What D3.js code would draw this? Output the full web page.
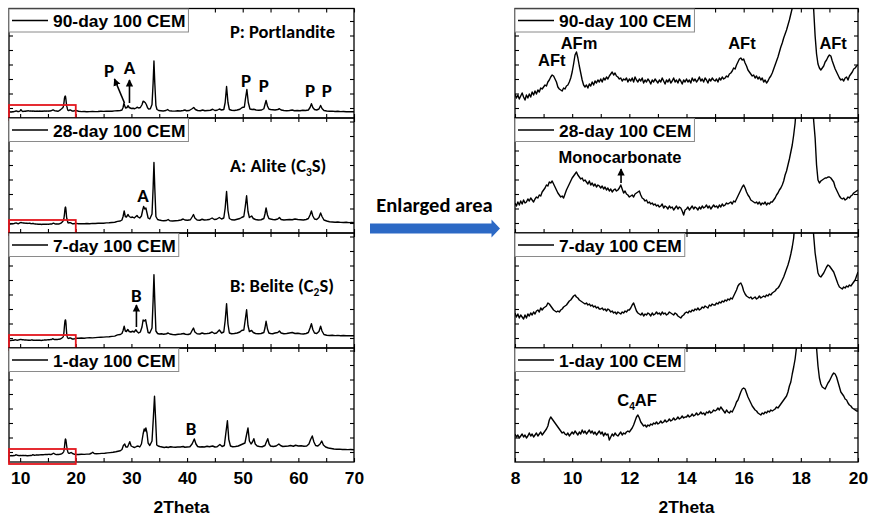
<!DOCTYPE html>
<html>
<head>
<meta charset="utf-8">
<title>XRD patterns of 100 CEM paste</title>
<script src="https://cdn.jsdelivr.net/npm/d3@7/dist/d3.min.js"></script>
<style>
  body { margin: 0; background: #fff; }
  text { fill: #000; }
</style>
</head>
<body>
<svg id="chart" width="870" height="520"></svg>
<script>
// ---------------- data ----------------
const sampleNames = ["90-day 100 CEM", "28-day 100 CEM", "7-day 100 CEM", "1-day 100 CEM"];

// slow scan, 8–20° 2θ, one reading every 0.05°
const fineStart = 8;
const fineStep = 0.05;

const fine90 = [
  124,120,123,119,122,125,121,118,123,120,124,121,126,123,127,124,128,126,130,129,
  131,133,132,136,138,141,143,142,139,136,131,129,128,127,130,129,132,133,136,140,
  146,154,163,166,160,152,145,138,133,131,133,130,134,132,136,133,137,135,138,136,
  139,136,140,138,141,139,142,144,146,143,145,142,141,139,140,137,139,138,140,136,
  139,137,140,136,141,138,136,139,137,140,135,138,136,139,137,134,138,136,139,137,
  135,138,136,140,137,134,138,136,139,135,137,140,136,138,135,139,137,134,138,136,
  139,136,138,135,140,137,139,136,138,141,137,139,136,140,138,135,139,137,140,138,
  137,139,136,140,138,141,139,140,142,141,144,145,147,150,149,153,156,159,160,158,
  159,155,152,148,146,144,142,143,140,142,139,141,138,140,136,138,135,137,140,142,
  145,149,153,157,161,166,171,175,180,184,188,193,198,204,210,225,250,285,330,380,
  410,430,440,435,400,350,300,260,230,208,182,164,154,150,148,150,152,156,158,161,
  163,162,157,153,149,146,143,140,138,139,137,140,141,138,142,144,146,149,150,152,
  153
];
const fine28 = [
  180,177,181,178,182,179,183,180,181,184,182,185,183,181,184,186,185,188,187,191,
  193,195,198,197,201,200,202,199,196,193,190,188,186,187,185,189,193,196,199,202,
  205,207,209,211,208,206,204,205,202,203,201,199,202,198,200,197,199,196,198,197,
  195,197,194,196,193,195,192,194,191,193,194,192,193,195,198,194,190,192,189,188,
  186,187,188,186,189,190,191,192,188,185,184,182,183,180,181,179,180,178,179,177,
  178,176,177,179,175,177,176,174,177,175,176,173,175,177,174,176,175,172,168,173,
  174,176,173,175,177,174,176,175,173,176,174,177,175,176,178,175,177,174,176,178,
  176,177,175,178,176,179,177,178,180,179,180,181,179,182,181,184,187,190,193,196,
  198,195,191,188,186,183,182,181,180,181,179,181,178,180,179,181,178,180,179,181,
  181,183,185,188,190,193,195,198,202,208,212,218,224,231,238,248,260,280,315,360,
  410,470,510,520,500,450,380,320,285,262,245,218,203,200,202,203,204,205,205,206,
  206,205,203,201,196,193,190,187,185,184,185,183,184,186,185,187,188,190,191,192,
  193
];
const fine7 = [
  155,151,154,150,153,151,149,153,150,154,152,155,153,156,154,157,158,156,160,158,
  160,161,162,165,164,162,160,158,157,156,157,156,158,159,161,162,163,165,167,168,
  170,172,173,171,170,168,167,166,165,164,165,163,164,162,163,161,162,160,161,159,
  159,160,158,159,157,159,158,156,157,155,156,154,156,155,154,156,155,157,156,158,
  158,160,163,165,161,157,155,154,153,155,152,154,153,155,154,152,155,153,154,156,
  154,155,153,156,154,155,153,154,156,155,154,153,155,154,152,151,150,152,153,155,
  156,155,157,156,158,157,159,158,160,158,159,161,160,162,161,160,163,162,164,163,
  163,165,164,166,165,167,166,168,167,169,168,170,169,172,175,178,182,184,185,182,
  177,174,172,171,170,171,169,170,171,169,170,172,170,171,172,171,173,172,174,173,
  175,176,177,179,180,182,185,188,191,195,199,203,208,214,221,230,250,290,350,420,
  480,530,558,561,540,480,390,310,255,232,215,205,195,192,191,193,195,198,201,203,
  202,200,198,196,192,188,184,181,180,179,181,180,182,181,183,182,184,186,188,192,
  196
];
const fine1 = [
  128,125,127,124,126,128,125,127,124,126,129,126,128,125,127,129,126,128,130,127,
  129,131,133,136,142,145,143,141,139,137,135,133,131,129,130,128,127,129,126,128,
  130,128,131,129,127,130,128,132,129,131,128,130,132,129,131,128,130,127,129,131,
  128,130,126,129,127,128,122,125,128,126,129,127,126,128,130,127,129,128,130,131,
  130,132,134,137,141,145,147,144,140,138,136,137,135,137,136,138,137,139,138,140,
  138,139,141,139,140,142,140,141,143,141,142,144,142,143,145,143,144,146,144,145,
  145,147,145,146,148,146,147,149,147,148,150,148,149,147,150,149,151,149,150,152,
  151,152,154,152,155,153,151,149,152,150,149,151,150,153,156,160,162,166,170,173,
  174,173,169,165,162,159,156,154,152,151,149,148,147,149,148,150,149,151,150,152,
  151,152,153,155,154,156,158,160,162,164,166,170,176,180,188,195,203,215,240,280,
  330,390,440,460,450,420,380,335,295,260,235,214,196,184,178,175,174,173,176,179,
  181,184,187,189,188,185,180,175,170,168,166,163,162,159,157,156,154,153,152,151,
  151
];

// survey scan beyond 20° 2θ, [2θ, counts]
const survey90 = [
  [20.5,135],[21.0,128],[21.5,130],[22.0,126],[22.5,128],[23.0,132],[23.5,128],[24.0,130],[24.5,134],[25.0,132],
  [25.5,136],[26.0,138],[26.5,136],[27.0,142],[27.5,146],[28.0,150],[28.3,160],[28.5,210],[28.65,295],[28.8,245],
  [28.95,200],[29.2,210],[29.4,245],[29.6,210],[29.8,200],[30.0,190],[30.3,195],[30.6,185],[30.9,205],[31.1,215],
  [31.3,200],[31.6,210],[31.9,265],[32.1,335],[32.3,325],[32.5,305],[32.7,265],[32.9,205],[33.1,180],[33.4,185],
  [33.7,270],[33.9,700],[34.05,1140],[34.2,700],[34.4,250],[34.6,170],[34.9,150],[35.3,145],[35.7,140],[36.2,150],
  [36.5,170],[36.8,145],[37.3,140],[37.8,138],[38.3,144],[38.8,140],[39.3,150],[39.6,160],[39.9,145],[40.4,150],
  [40.9,185],[41.2,210],[41.5,170],[41.9,150],[42.4,145],[42.8,160],[43.2,145],[43.7,150],[44.2,155],[44.6,175],
  [45.0,150],[45.4,155],[45.8,180],[46.2,160],[46.6,170],[46.85,310],[47.1,630],[47.35,310],[47.6,170],[48.0,155],
  [48.5,150],[49.0,160],[49.5,175],[49.9,210],[50.3,220],[50.5,390],[50.75,570],[51.0,310],[51.3,180],[51.7,170],
  [52.0,175],[52.4,160],[52.9,155],[53.4,160],[53.8,185],[54.0,270],[54.2,350],[54.45,240],[54.7,180],[55.0,170],
  [55.4,165],[55.8,160],[56.3,170],[56.6,185],[56.9,160],[57.4,150],[57.9,145],[58.4,150],[58.9,160],[59.3,145],
  [59.8,150],[60.3,145],[60.8,155],[61.3,150],[61.8,160],[62.1,210],[62.35,285],[62.6,210],[62.9,170],[63.3,160],
  [63.7,180],[64.0,250],[64.25,190],[64.6,150],[65.1,140],[65.6,135],[66.1,138],[66.6,130],[67.1,134],[67.6,128],
  [68.1,130],[68.6,126],[69.1,128],[69.6,124],[70.0,125]
];
const survey28 = [
  [20.5,185],[21.0,188],[21.5,184],[22.0,190],[22.5,186],[23.0,192],[23.5,190],[24.0,194],[24.5,198],[25.0,196],
  [25.5,202],[26.0,205],[26.5,210],[27.0,215],[27.5,232],[28.0,240],[28.3,260],[28.5,330],[28.7,440],[28.9,330],
  [29.1,320],[29.4,370],[29.6,330],[29.9,310],[30.2,320],[30.5,300],[30.8,330],[31.0,350],[31.2,320],[31.5,300],
  [31.8,340],[32.05,470],[32.2,530],[32.4,480],[32.6,500],[32.8,400],[33.0,300],[33.3,280],[33.7,380],[33.9,900],
  [34.05,1410],[34.2,900],[34.4,330],[34.7,270],[35.0,260],[35.4,250],[35.8,245],[36.3,250],[36.6,270],[36.9,245],
  [37.4,240],[37.9,245],[38.4,250],[38.9,260],[39.3,280],[39.6,260],[40.1,255],[40.6,265],[40.9,320],[41.15,370],
  [41.4,300],[41.8,260],[42.3,255],[42.7,275],[43.1,260],[43.6,265],[44.0,270],[44.5,300],[44.9,270],[45.3,275],
  [45.8,310],[46.2,280],[46.6,300],[46.85,500],[47.1,830],[47.35,450],[47.6,290],[48.0,265],[48.5,260],[49.0,275],
  [49.5,290],[49.8,310],[50.2,330],[50.45,520],[50.7,745],[50.95,430],[51.2,310],[51.6,340],[51.9,290],[52.3,270],
  [52.8,260],[53.3,265],[53.8,290],[54.0,380],[54.2,500],[54.45,360],[54.7,290],[55.0,280],[55.4,270],[55.8,265],
  [56.3,280],[56.6,310],[56.9,270],[57.4,260],[57.9,265],[58.4,270],[58.9,265],[59.4,280],[59.9,270],[60.4,265],
  [60.9,260],[61.4,270],[61.8,290],[62.1,360],[62.35,440],[62.6,340],[62.9,280],[63.3,270],[63.7,310],[64.0,400],
  [64.25,330],[64.6,260],[65.1,240],[65.6,225],[66.1,220],[66.6,215],[67.1,220],[67.6,212],[68.1,210],[68.6,214],
  [69.1,208],[69.6,210],[70.0,206]
];
const survey7 = [
  [20.5,195],[21.0,200],[21.5,196],[22.0,202],[22.5,205],[23.0,203],[23.5,208],[24.0,212],[24.5,215],[25.0,218],
  [25.5,222],[26.0,226],[26.5,232],[27.0,238],[27.5,262],[28.0,270],[28.3,290],[28.5,350],[28.7,435],[28.9,340],
  [29.1,330],[29.35,370],[29.6,330],[29.9,320],[30.2,335],[30.5,320],[30.8,365],[31.0,330],[31.3,300],[31.6,320],
  [31.9,420],[32.1,560],[32.3,540],[32.55,565],[32.8,420],[33.0,310],[33.3,300],[33.7,400],[33.9,950],[34.05,1465],
  [34.2,950],[34.4,340],[34.7,290],[35.0,280],[35.4,285],[35.8,275],[36.3,285],[36.6,300],[36.9,280],[37.4,270],
  [37.9,265],[38.4,275],[38.9,280],[39.4,290],[39.7,275],[40.2,270],[40.6,285],[40.9,350],[41.15,400],[41.4,320],
  [41.8,285],[42.3,280],[42.7,300],[43.1,285],[43.6,290],[44.0,295],[44.5,320],[44.9,290],[45.3,300],[45.8,360],
  [46.2,300],[46.6,320],[46.85,550],[47.1,885],[47.35,480],[47.6,300],[48.0,285],[48.5,290],[49.0,300],[49.5,320],
  [49.8,350],[50.2,360],[50.45,560],[50.7,765],[50.95,450],[51.2,330],[51.6,350],[51.9,310],[52.3,290],[52.8,285],
  [53.3,290],[53.8,310],[54.0,400],[54.2,535],[54.45,380],[54.7,300],[55.0,290],[55.4,285],[55.8,300],[56.3,310],
  [56.6,340],[56.9,300],[57.4,285],[57.9,290],[58.4,300],[58.9,310],[59.4,290],[59.9,295],[60.4,285],[60.9,280],
  [61.4,290],[61.8,310],[62.1,400],[62.35,485],[62.6,370],[62.9,300],[63.3,290],[63.7,330],[64.0,435],[64.25,340],
  [64.6,270],[65.1,255],[65.6,250],[66.1,255],[66.6,248],[67.1,252],[67.6,245],[68.1,250],[68.6,246],[69.1,244],
  [69.6,248],[70.0,246]
];
const survey1 = [
  [20.5,150],[21.0,155],[21.5,152],[22.0,158],[22.5,160],[22.8,175],[23.05,195],[23.3,170],[23.7,165],[24.2,168],
  [24.7,172],[25.2,176],[25.7,182],[26.2,188],[26.7,195],[27.2,205],[27.6,215],[28.0,225],[28.3,250],[28.55,330],
  [28.8,360],[29.0,300],[29.3,300],[29.5,350],[29.7,405],[29.95,320],[30.3,300],[30.6,290],[30.9,310],[31.2,320],
  [31.5,300],[31.8,360],[32.1,560],[32.3,660],[32.45,620],[32.6,680],[32.8,580],[33.0,380],[33.3,330],[33.7,420],
  [33.95,900],[34.15,1315],[34.35,850],[34.55,340],[34.8,320],[35.1,310],[35.5,300],[35.9,290],[36.3,300],[36.6,290],
  [37.0,305],[37.4,300],[37.9,295],[38.3,300],[38.8,300],[39.3,310],[39.6,295],[40.0,300],[40.5,305],[40.9,360],
  [41.3,460],[41.6,360],[41.9,310],[42.3,300],[42.7,305],[43.1,300],[43.6,315],[44.0,305],[44.6,320],[45.0,300],
  [45.4,305],[45.9,350],[46.3,310],[46.7,330],[46.95,560],[47.25,825],[47.5,450],[47.8,320],[48.2,305],[48.7,310],
  [49.2,320],[49.6,340],[50.0,360],[50.4,380],[50.7,550],[50.95,680],[51.2,420],[51.5,360],[51.75,400],[52.0,465],
  [52.25,360],[52.6,320],[53.0,310],[53.5,305],[54.0,330],[54.25,400],[54.5,465],[54.75,360],[55.0,320],[55.5,310],
  [56.0,320],[56.5,360],[56.8,330],[57.2,310],[57.7,315],[58.2,320],[58.6,330],[59.1,315],[59.5,335],[60.0,320],
  [60.5,325],[61.0,315],[61.5,320],[61.9,360],[62.2,450],[62.5,520],[62.8,400],[63.1,330],[63.5,320],[63.9,360],
  [64.2,420],[64.5,340],[64.9,300],[65.4,280],[65.9,270],[66.4,260],[66.9,255],[67.4,258],[67.9,250],[68.4,252],
  [68.9,248],[69.4,250],[70.0,245]
];

const wideTicks = [10, 20, 30, 40, 50, 60, 70];
const fineTicks = [8, 10, 12, 14, 16, 18, 20];

// phase tags on the survey patterns: [panel, text, 2θ, counts]
const surveyTags = [
  [0, "P", 26.0, 960], [0, "A", 29.65, 1020], [0, "P", 50.6, 760], [0, "P", 53.8, 660],
  [0, "P", 62.1, 560], [0, "P", 65.1, 560],
  [1, "A", 32.1, 760],
  [2, "B", 30.9, 1060],
  [3, "B", 40.7, 680]
];
// pointer arrows: [panel, 2θ tail, counts tail, 2θ head, counts head]
const surveyArrows = [
  [0, 28.75, 300, 26.95, 780],
  [0, 29.65, 300, 29.65, 760],
  [2, 30.9, 420, 30.9, 860]
];
// phase key per panel: [panel, text, 2θ of left edge, counts]  (_n = subscript)
const phaseKeys = [
  [0, "P: Portlandite", 47.7, 1740],
  [1, "A: Alite (C_3S)", 47.7, 1360],
  [2, "B: Belite (C_2S)", 47.7, 1260]
];
// tags on the enlarged 8–20° scans
const fineTags = [
  [0, "AFt", 9.29, 158], [0, "AFm", 10.24, 175], [0, "AFt", 15.94, 175], [0, "AFt", 19.13, 175],
  [1, "Monocarbonate", 11.67, 226],
  [3, "C_4AF", 12.27, 162]
];
const fineArrows = [
  [1, 11.71, 200, 11.71, 214]
];
// region of the survey scan shown enlarged: [2θ from, 2θ to, counts from, counts to]
const enlargedBox = [8, 20, -40, 260];

// ---------------- layout ----------------
const svg = d3.select("#chart");
const tops = [8.5, 118, 233, 348];
const bottomEdge = 462;
const leftRange = [9, 354];
const rightRange = [515, 858];
const countsPerPx = 20;           // survey panels
const fineFloor = [100, 150, 120, 100]; // lower bound of the enlarged panels
const boldSans = "'Liberation Sans', Arial, sans-serif";
const humanist = "Carlito, Calibri, Lato, sans-serif";

const xWide = d3.scaleLinear().domain([8, 70]).range(leftRange);
const xFine = d3.scaleLinear().domain([8, 20]).range(rightRange);

const fineSets = [fine90, fine28, fine7, fine1];
const surveySets = [survey90, survey28, survey7, survey1];
const fineSeries = fineSets.map(arr => arr.map((c, i) => [fineStart + i * fineStep, c]));
const fullSeries = fineSeries.map((f, k) => f.concat(surveySets[k]));

const defs = svg.append("defs");
defs.append("marker")
  .attr("id", "tip").attr("viewBox", "0 0 10 10")
  .attr("refX", 9).attr("refY", 5)
  .attr("markerWidth", 4.6).attr("markerHeight", 5.2)
  .attr("orient", "auto")
  .append("path").attr("d", "M0,0 L10,5 L0,10 Z").attr("fill", "#000");

function richText(sel, str, size) {
  sel.attr("font-size", size);
  str.split(/(_\d)/).filter(s => s.length).forEach(part => {
    if (part[0] === "_") {
      sel.append("tspan").text(part.slice(1)).attr("font-size", size * 0.62).attr("dy", 4);
    } else {
      const t = sel.append("tspan").text(part);
      if (sel.selectAll("tspan").size() > 1) t.attr("dy", -4);
    }
  });
  return sel;
}

function panel(k, x, y, series, ySteps, edges) {
  const [x0, x1] = x.range();
  const [yb, yt] = y.range();
  const g = svg.append("g");
  const clipId = "clip-" + edges + "-" + k;
  defs.append("clipPath").attr("id", clipId)
    .append("rect").attr("x", x0).attr("y", yt).attr("width", x1 - x0).attr("height", yb - yt);

  g.append("path")
    .datum(series)
    .attr("clip-path", `url(#${clipId})`)
    .attr("fill", "none").attr("stroke", "#000")
    .attr("stroke-width", 1.4).attr("stroke-linejoin", "round")
    .attr("d", d3.line().x(d => x(d[0])).y(d => y(d[1])));

  const xt = edges === "wide" ? d3.range(10, 71, 5) : d3.range(8, 20.5, 1);
  const mk = (axis, tr) => {
    const a = g.append("g").attr("transform", tr).call(axis);
    a.select(".domain").remove();
    a.selectAll("line").attr("stroke", "#000").attr("stroke-width", 1.1);
  };
  mk(d3.axisBottom(x).tickValues(xt).tickSize(-4).tickFormat(""), `translate(0,${yb})`);
  mk(d3.axisTop(x).tickValues(xt).tickSize(-4).tickFormat(""), `translate(0,${yt})`);
  mk(d3.axisLeft(y).tickValues(ySteps).tickSize(-4).tickFormat(""), `translate(${x0},0)`);
  mk(d3.axisRight(y).tickValues(ySteps).tickSize(-4).tickFormat(""), `translate(${x1},0)`);

  g.append("rect")
    .attr("x", x0).attr("y", yt).attr("width", x1 - x0).attr("height", yb - yt)
    .attr("fill", "none").attr("stroke", "#000").attr("stroke-width", 1.3);

  // sample key
  const key = g.append("g");
  const box = key.append("rect")
    .attr("x", x0).attr("y", yt + 0.5).attr("height", 23)
    .attr("fill", "#fff").attr("stroke", "#8a8a8a").attr("stroke-width", 1);
  key.append("line")
    .attr("x1", x0 + 3).attr("x2", x0 + 39)
    .attr("y1", yt + 12).attr("y2", yt + 12)
    .attr("stroke", "#000").attr("stroke-width", 1.6);
  const label = key.append("text")
    .attr("x", x0 + 44).attr("y", yt + 18.5)
    .attr("font-family", boldSans).attr("font-weight", "bold").attr("font-size", 17.4)
    .text(sampleNames[k]);
  box.attr("width", 44 + label.node().getComputedTextLength() + 3);
  return g;
}

function pointer(g, x, y, a) {
  g.append("line")
    .attr("x1", x(a[1])).attr("y1", y(a[2]))
    .attr("x2", x(a[3])).attr("y2", y(a[4]))
    .attr("stroke", "#000").attr("stroke-width", 1.6)
    .attr("marker-end", "url(#tip)");
}

sampleNames.forEach((name, k) => {
  const top = tops[k];
  const bottom = k < 3 ? tops[k + 1] : bottomEdge;
  const h = bottom - top;

  // survey panel
  const yWide = d3.scaleLinear().domain([0, h * countsPerPx]).range([bottom, top]);
  const gw = panel(k, xWide, yWide, fullSeries[k], d3.range(200, h * countsPerPx, 290), "wide");

  surveyTags.filter(t => t[0] === k).forEach(t => {
    gw.append("text")
      .attr("x", xWide(t[2])).attr("y", yWide(t[3])).attr("dy", "0.36em")
      .attr("text-anchor", "middle")
      .attr("font-family", humanist).attr("font-weight", "bold").attr("font-size", 19)
      .text(t[1]);
  });
  surveyArrows.filter(a => a[0] === k).forEach(a => pointer(gw, xWide, yWide, a));
  phaseKeys.filter(p => p[0] === k).forEach(p => {
    const t = gw.append("text")
      .attr("x", xWide(p[2])).attr("y", yWide(p[3])).attr("dy", "0.36em")
      .attr("font-family", humanist).attr("font-weight", "bold");
    richText(t, p[1], 18.5);
  });

  // marks the stretch that is enlarged on the right
  gw.append("rect")
    .attr("x", xWide(enlargedBox[0])).attr("y", yWide(enlargedBox[3]))
    .attr("width", xWide(enlargedBox[1]) - xWide(enlargedBox[0]))
    .attr("height", yWide(enlargedBox[2]) - yWide(enlargedBox[3]))
    .attr("fill", "none").attr("stroke", "#e3161d").attr("stroke-width", 1.8);

  // enlarged panel
  const yFine = d3.scaleLinear().domain([fineFloor[k], fineFloor[k] + h]).range([bottom, top]);
  const gf = panel(k, xFine, yFine, fineSeries[k], d3.range(fineFloor[k] + 10, fineFloor[k] + h, 14.5), "fine");

  fineTags.filter(t => t[0] === k).forEach(t => {
    const el = gf.append("text")
      .attr("x", xFine(t[2])).attr("y", yFine(t[3])).attr("dy", "0.36em")
      .attr("text-anchor", "middle")
      .attr("font-family", boldSans).attr("font-weight", "bold");
    richText(el, t[1], 16.5);
  });
  fineArrows.filter(a => a[0] === k).forEach(a => pointer(gf, xFine, yFine, a));
});

// bottom tick labels and axis titles
[[xWide, wideTicks], [xFine, fineTicks]].forEach(([x, ticks]) => {
  const a = svg.append("g").attr("transform", `translate(0,${bottomEdge})`)
    .call(d3.axisBottom(x).tickValues(ticks).tickSize(0).tickPadding(10).tickFormat(d3.format("d")));
  a.select(".domain").remove();
  a.selectAll("text")
    .attr("font-family", boldSans).attr("font-weight", "bold").attr("font-size", 17.4).attr("fill", "#000");
  svg.append("text")
    .attr("x", d3.mean(x.range())).attr("y", 513)
    .attr("text-anchor", "middle")
    .attr("font-family", boldSans).attr("font-weight", "bold").attr("font-size", 17.4)
    .text("2Theta");
});

// "Enlarged area" pointer between the two columns
const arrowY = tops[2] - 4.5;
const ax0 = leftRange[1] + 16, ax1 = rightRange[0] - 15;
svg.append("path")
  .attr("d", `M${ax0},${arrowY - 5} L${ax1 - 8.5},${arrowY - 5} L${ax1 - 8.5},${arrowY - 9}
              L${ax1},${arrowY} L${ax1 - 8.5},${arrowY + 9} L${ax1 - 8.5},${arrowY + 5} L${ax0},${arrowY + 5} Z`)
  .attr("fill", "#2c69c5");
svg.append("text")
  .attr("x", (ax0 + ax1) / 2 - 0.5).attr("y", arrowY - 17)
  .attr("text-anchor", "middle")
  .attr("font-family", humanist).attr("font-weight", "bold").attr("font-size", 20.5)
  .text("Enlarged area");
</script>
</body>
</html>
